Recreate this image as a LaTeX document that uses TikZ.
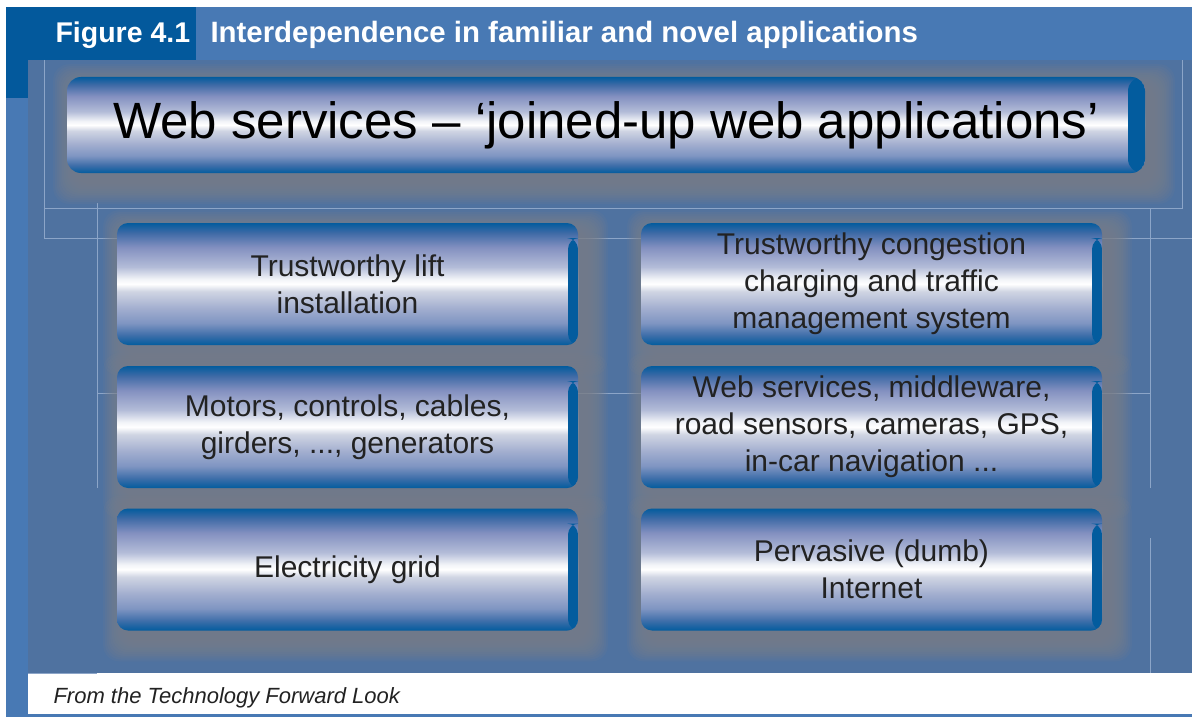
\documentclass[tikz,border=0pt]{standalone}
\usepackage{fontspec}
\setmainfont{Liberation Sans}

% palette
\definecolor{figdark}{HTML}{03599C}
\definecolor{titlebar}{HTML}{4879B4}
\definecolor{panelblue}{HTML}{4F72A0}
\definecolor{boxdark}{HTML}{035C9E}
\definecolor{shadowgray}{HTML}{7C8089}
\definecolor{guide}{HTML}{8CA5C8}
\definecolor{inktext}{HTML}{222222}
\definecolor{gA}{HTML}{3E6EA9}
\definecolor{gB}{HTML}{7F95C2}
\definecolor{gC}{HTML}{A2AECF}
\definecolor{gD}{HTML}{D0D5E3}
\definecolor{gE}{HTML}{F2F4F8}
\definecolor{gF}{HTML}{B3BCD8}
\definecolor{gG}{HTML}{8390C0}
\definecolor{gH}{HTML}{3E6AA6}

% glossy cylinder look of the boxes (bottom -> top)
\pgfdeclareverticalshading{gloss}{100bp}{%
  color(0bp)=(boxdark); color(25bp)=(boxdark); color(29bp)=(gA);
  color(34bp)=(gB); color(40bp)=(gC); color(47bp)=(gD);
  color(50bp)=(white); color(52bp)=(gE); color(57bp)=(gF);
  color(65bp)=(gG); color(71bp)=(gH); color(75bp)=(boxdark);
  color(100bp)=(boxdark)}

\pgfdeclarelayer{bg}
\pgfdeclarelayer{shade}
\pgfsetlayers{bg,shade,main}

\tikzset{
  glossbox/.style={rectangle, rounded corners=11pt, minimum width=461pt,
    minimum height=122pt, inner sep=0pt, shading=gloss, align=center,
    text=inktext, font=\fontsize{30}{37}\selectfont,
    path picture={\fill[boxdark]
      ([xshift=-10pt,yshift=-15pt]path picture bounding box.north east)
      rectangle (path picture bounding box.south east);}},
  headbox/.style={rectangle, rounded corners=14pt, minimum width=1078pt,
    minimum height=96pt, inner sep=0pt, shading=gloss, text=black,
    font=\fontsize{51}{60}\selectfont,
    path picture={\fill[boxdark, rounded corners=14pt]
      ([xshift=-17pt]path picture bounding box.north east)
      rectangle (path picture bounding box.south east);}},
  guideline/.style={draw=guide, line width=0.8pt},
  titletext/.style={anchor=base west, text=white, font=\bfseries},
}

\begin{document}
\begin{tikzpicture}[x=1pt, y=-1pt]
\useasboundingbox (0,0) rectangle (1192,717);

\begin{pgfonlayer}{bg}
  \fill[white] (0,0) rectangle (1192,717);
  % frame, title bar and panel
  \fill[titlebar] (6,7) rectangle (1192,60);
  \fill[titlebar] (6,60) rectangle (28,717);
  \fill[titlebar] (6,714) rectangle (1192,717);
  \fill[figdark] (6,7) rectangle (196,60);
  \fill[figdark] (6,60) rectangle (28,98);
  \fill[panelblue] (28,60) rectangle (1192,673);
  \fill[white] (28,673) rectangle (1192,714);
  % faint layout guides
  \draw[guideline] (44,60) -- (44,238);
  \draw[guideline] (44,208) -- (1182,208) -- (1182,60);
  \draw[guideline] (44,238) -- (1192,238);
  \draw[guideline] (97,203) -- (97,488);
  \draw[guideline] (97,393) -- (1150,393);
  \draw[guideline] (1150,208) -- (1150,488);
  \draw[guideline] (1150,538) -- (1150,673);
  \draw[guideline] (28,673) -- (97,673);
\end{pgfonlayer}

% heading
\node[titletext, font=\bfseries\fontsize{28.5}{34}\selectfont] (fignum) at (52,43) {Figure 4.1};
\node[titletext, font=\bfseries\fontsize{29.4}{34}\selectfont] (figtitle) at (207,43) {Interdependence in familiar and novel applications};

% boxes
\node[headbox] (web) at (606,125) {Web services – ‘joined-up web applications’};

\node[glossbox] (lift)  at (347.5,284)   {Trustworthy lift\\installation};
\node[glossbox] (cong)  at (871.5,284)   {Trustworthy congestion\\charging and traffic\\management system};
\node[glossbox] (motor) at (347.5,427)   {Motors, controls, cables,\\girders, ..., generators};
\node[glossbox] (wsmw)  at (871.5,427)   {Web services, middleware,\\road sensors, cameras, GPS,\\in-car navigation ...};
\node[glossbox] (grid)  at (347.5,569.5) {Electricity grid};
\node[glossbox] (inet)  at (871.5,569.5) {Pervasive (dumb)\\Internet};

% soft grey glow behind every box
\begin{pgfonlayer}{shade}
  \foreach \n in {web,lift,cong,motor,wsmw,grid,inet} {
    \foreach \k in {1,...,12} {
      \fill[shadowgray, opacity=0.13, rounded corners=16pt]
        ([shift={(8pt-\k*1.8pt,-9pt+\k*1.8pt)}]\n.north west)
        rectangle ([shift={(8pt+\k*1.8pt,-9pt-\k*1.8pt)}]\n.south east);
    }
  }
\end{pgfonlayer}

% source line
\node[anchor=base west, text=inktext, font=\itshape\fontsize{22}{26}\selectfont] (source) at (50,703) {From the Technology Forward Look};

\end{tikzpicture}
\end{document}
